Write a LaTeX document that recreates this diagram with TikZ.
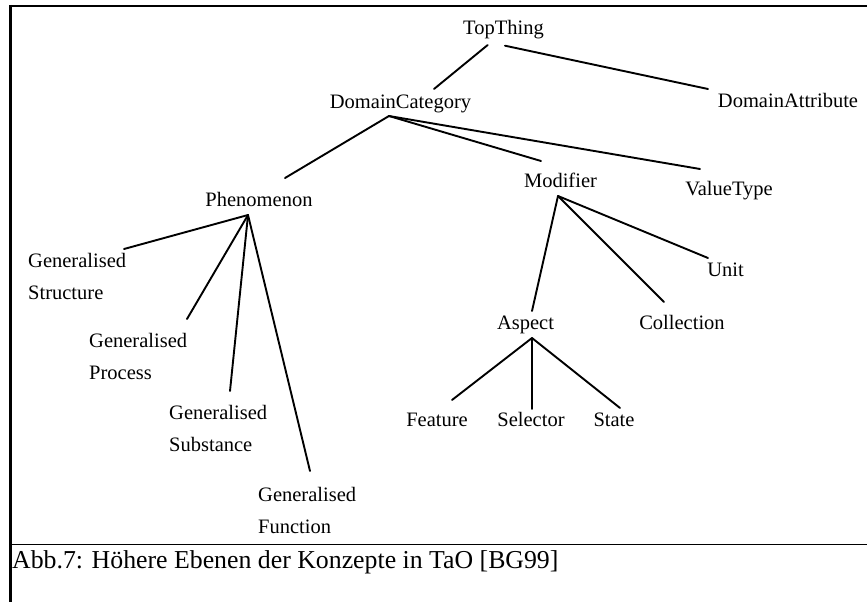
\documentclass[tikz,border=0pt]{standalone}
\usepackage{fontspec}
\setmainfont{Liberation Serif}
% two stacked lines whose baseline is the first line's baseline
\newcommand\twolines[2]{\vtop{\baselineskip=32pt\hbox{#1}\hbox{#2}}}
\begin{document}
\begin{tikzpicture}[x=1pt, y=-1pt,
  concept/.style={font=\fontsize{20.5}{24}\selectfont, inner sep=0pt, anchor=base},
  leftconcept/.style={concept, anchor=base west},
  edge/.style={line width=1.9pt, line cap=round},
  frame/.style={line width=#1}]
  \useasboundingbox (0,0) rectangle (867,602);

  % frame and caption rule
  \draw[frame=2.2pt] (9,6) -- (867,6);
  \draw[frame=2.8pt] (10.5,5) -- (10.5,602);
  \draw[frame=1.3pt] (10,544.5) -- (867,544.5);

  % concepts
  \node[concept] (top) at (503.5,35) {TopThing};
  \node[concept] (dc) at (400.5,108) {DomainCategory};
  \node[concept] (da) at (788,107) {DomainAttribute};
  \node[concept] (ph) at (259,206) {Phenomenon};
  \node[concept] (mo) at (560.5,187) {Modifier};
  \node[concept] (vt) at (729,195) {ValueType};
  \node[leftconcept] (gs) at (28,267) {\twolines{Generalised}{Structure}};
  \node[leftconcept] (gp) at (89,347) {\twolines{Generalised}{Process}};
  \node[leftconcept] (gsu) at (169,419) {\twolines{Generalised}{Substance}};
  \node[leftconcept] (gf) at (258,501) {\twolines{Generalised}{Function}};
  \node[concept] (un) at (725.5,276) {Unit};
  \node[concept] (as) at (525.5,329) {Aspect};
  \node[concept] (co) at (682,329) {Collection};
  \node[concept] (fe) at (437,426) {Feature};
  \node[concept] (se) at (531,426) {Selector};
  \node[concept] (st) at (614,426) {State};

  % connectors
  \draw[edge] ([shift={(-15.8,10)}]top.base) -- ([shift={(33.5,-19)}]dc.base);
  \draw[edge] ([shift={(1.5,10.7)}]top.base) -- ([shift={(-80,-18)}]da.base);

  \draw[edge] ([shift={(-11.5,8)}]dc.base) -- ([shift={(26,-28)}]ph.base);
  \draw[edge] ([shift={(-11.5,8)}]dc.base) -- ([shift={(-19.5,-26)}]mo.base);
  \draw[edge] ([shift={(-11.5,8)}]dc.base) -- ([shift={(-29,-26)}]vt.base);

  \draw[edge] ([shift={(-11,9)}]ph.base) -- ([shift={(96,-18)}]gs.base west);
  \draw[edge] ([shift={(-11,9)}]ph.base) -- ([shift={(98,-28)}]gp.base west);
  \draw[edge] ([shift={(-11,9)}]ph.base) -- ([shift={(61,-28)}]gsu.base west);
  \draw[edge] ([shift={(-11,9)}]ph.base) -- ([shift={(52,-30)}]gf.base west);

  \draw[edge] ([shift={(-2.5,9)}]mo.base) -- ([shift={(6.5,-18)}]as.base);
  \draw[edge] ([shift={(-2.5,9)}]mo.base) -- ([shift={(-18,-27)}]co.base);
  \draw[edge] ([shift={(-2.5,9)}]mo.base) -- ([shift={(-17.5,-18)}]un.base);

  \draw[edge] ([shift={(6.5,9)}]as.base) -- ([shift={(15,-26)}]fe.base);
  \draw[edge] ([shift={(6.5,9)}]as.base) -- ([shift={(1,-17)}]se.base);
  \draw[edge] ([shift={(6.5,9)}]as.base) -- ([shift={(6,-18)}]st.base);

  % caption
  \node[anchor=base west, inner sep=0pt, font=\fontsize{25.8}{30}\selectfont] (cap) at (12,568)
    {Abb.7: Höhere Ebenen der Konzepte in TaO [BG99]};
\end{tikzpicture}
\end{document}
